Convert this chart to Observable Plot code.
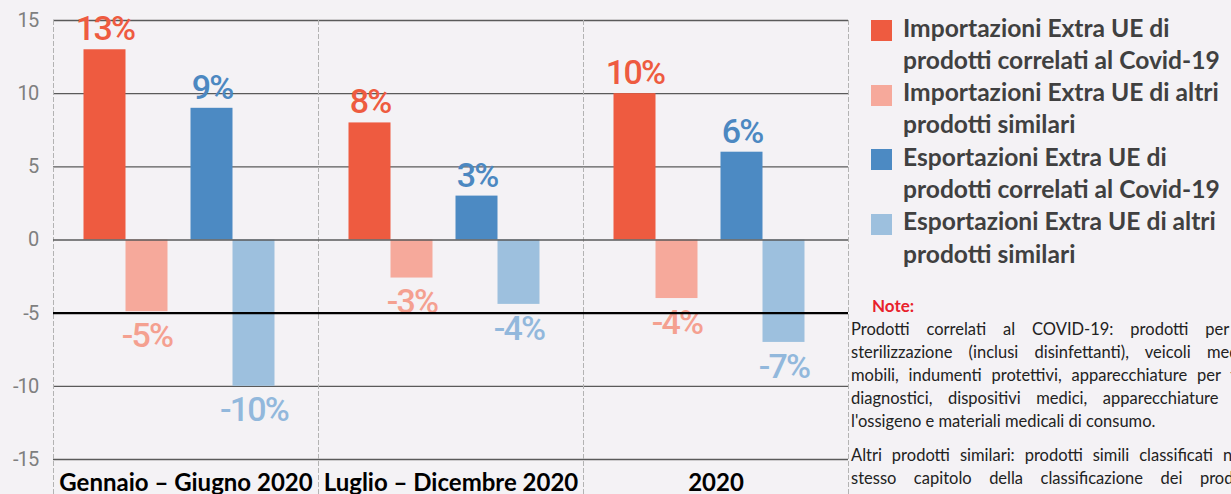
<!DOCTYPE html>
<html><head><meta charset="utf-8">
<script src="https://cdn.jsdelivr.net/npm/d3@7"></script>
<script src="https://cdn.jsdelivr.net/npm/@observablehq/plot@0.6"></script>
<style>
html,body{margin:0;padding:0;background:#f4f2f5;}
body{width:1231px;height:494px;overflow:hidden;position:relative;}
#chart{position:absolute;left:0;top:0;}
#legend{position:absolute;left:871px;top:11.5px;font-family:Lato,sans-serif;font-weight:700;font-size:24.6px;line-height:32.3px;color:#404040;white-space:nowrap;}
.item{display:flex;align-items:flex-start;}
.sw{width:21px;height:21px;margin-top:8.5px;margin-right:11px;flex:none;}
#notes{position:absolute;left:851px;top:295.3px;width:407px;font-family:Lato,sans-serif;font-size:16.5px;line-height:22.9px;color:#222;}
.ntitle{color:#e8212b;font-weight:700;margin-left:21px;font-size:17px;}
.ln{white-space:nowrap;}
.j{text-align:justify;text-align-last:justify;}
.p2{margin-top:11px;}
g[font-size="34"] text{letter-spacing:-1.8px;}
g[aria-label="y-axis tick label"] text{letter-spacing:-0.8px;}
</style>
</head><body>
<div id="chart"></div>
<div id="legend"></div>
<div id="notes"></div>
<script>
const periods = ["Gennaio – Giugno 2020", "Luglio – Dicembre 2020", "2020"];
const seriesNames = [
  "Importazioni Extra UE di prodotti correlati al Covid-19",
  "Importazioni Extra UE di altri prodotti similari",
  "Esportazioni Extra UE di prodotti correlati al Covid-19",
  "Esportazioni Extra UE di altri prodotti similari"
];
const legendLines = [
  ["Importazioni Extra UE di", "prodotti correlati al Covid-19"],
  ["Importazioni Extra UE di altri", "prodotti similari"],
  ["Esportazioni Extra UE di", "prodotti correlati al Covid-19"],
  ["Esportazioni Extra UE di altri", "prodotti similari"]
];
const seriesColors = ["#ee5b40", "#f6a99b", "#4c8ac3", "#9dc0de"];
const labelColors = ["#ee5b40", "#f4a090", "#4c88c1", "#92b8dc"];
const importsCovid = [13, 8, 10];
const importsOther = [-4.9, -2.6, -4.0];
const exportsCovid = [9, 3, 6];
const exportsOther = [-10, -4.4, -7];
const yTicks = [15, 10, 5, 0, -5, -10, -15];
const noteTitle = "Note:";
const notePara1 = [
  "Prodotti correlati al COVID-19: prodotti per la",
  "sterilizzazione (inclusi disinfettanti), veicoli medici,",
  "mobili, indumenti protettivi, apparecchiature per test",
  "diagnostici, dispositivi medici, apparecchiature per",
  "l'ossigeno e materiali medicali di consumo."
];
const notePara2 = [
  "Altri prodotti similari: prodotti simili classificati nello",
  "stesso capitolo della classificazione dei prodotti"
];

const rows = [];
periods.forEach((p, i) => {
  rows.push({period: p, series: seriesNames[0], value: importsCovid[i], group: "imp", k: 0});
  rows.push({period: p, series: seriesNames[1], value: importsOther[i], group: "imp", k: 1});
  rows.push({period: p, series: seriesNames[2], value: exportsCovid[i], group: "exp", k: 2});
  rows.push({period: p, series: seriesNames[3], value: exportsOther[i], group: "exp", k: 3});
});
const imp = rows.filter(d => d.group === "imp");
const exp = rows.filter(d => d.group === "exp");
const fmt = d => `${Math.round(d.value)}%`;
const labelFont = "Roboto, sans-serif";
const shift = 11.5;

function labels(data, dx) {
  const common = {fx: "period", x: "series", y: "value", text: fmt, fill: d => labelColors[d.k],
    dx, fontSize: 34, fontWeight: 500, fontFamily: labelFont};
  return [
    Plot.text(data.filter(d => d.value > 0), {...common, lineAnchor: "bottom", dy: -9.5}),
    Plot.text(data.filter(d => d.value < 0), {...common, lineAnchor: "top", dy: 11})
  ];
}

const chart = Plot.plot({
  width: 850, height: 494,
  marginLeft: 52, marginRight: 2, marginTop: 20, marginBottom: 35,
  style: {background: "#f4f2f5", fontFamily: "Lato, sans-serif", overflow: "visible"},
  fx: {domain: periods, padding: 0, label: null},
  x: {domain: seriesNames, paddingInner: 0, paddingOuter: 1.122, align: 0.435, axis: null},
  y: {domain: [-15, 15], label: null},
  color: {domain: seriesNames, range: seriesColors},
  marks: [
    Plot.ruleY(yTicks.filter(v => v !== -5 && v !== 0), {stroke: "#5a5a5a", strokeWidth: 1.3}),
    Plot.frame({anchor: "left", stroke: "#b3b3b3", strokeDasharray: "4,3", insetBottom: -35}),
    Plot.frame({anchor: "right", stroke: "#b3b3b3", strokeDasharray: "4,3", insetBottom: -35}),
    Plot.barY(imp, {fx: "period", x: "series", y: "value", fill: "series", dx: -shift}),
    Plot.barY(exp, {fx: "period", x: "series", y: "value", fill: "series", dx: shift}),
    ...labels(imp, -shift),
    ...labels(exp, shift),
    Plot.ruleY([0], {stroke: "#5a5a5a", strokeWidth: 1.3}),
    Plot.ruleY([-5], {stroke: "#000", strokeWidth: 2.3}),
    Plot.axisY({ticks: yTicks, tickFormat: d => String(d), tickSize: 0, tickPadding: 15,
      fontSize: 20, fontFamily: "Roboto, sans-serif", fill: "#7f7f7f", label: null}),
    Plot.axisFx({anchor: "bottom", tickSize: 0, tickPadding: 14, fontSize: 24, fontWeight: "bold",
      fontFamily: "Lato, sans-serif", fill: "#000", label: null})
  ]
});
document.getElementById("chart").appendChild(chart);

const legend = document.getElementById("legend");
legendLines.forEach((lines, i) => {
  const item = document.createElement("div");
  item.className = "item";
  const sw = document.createElement("div");
  sw.className = "sw";
  sw.style.background = seriesColors[i];
  const tx = document.createElement("div");
  tx.innerHTML = lines.join("<br>");
  item.appendChild(sw); item.appendChild(tx);
  legend.appendChild(item);
});

const notes = document.getElementById("notes");
const t = document.createElement("div");
t.className = "ntitle"; t.textContent = noteTitle; notes.appendChild(t);
function para(lines, cls) {
  const p = document.createElement("div");
  if (cls) p.className = cls;
  lines.forEach((l, i) => {
    const d = document.createElement("div");
    d.className = "ln" + (i < lines.length - 1 ? " j" : "");
    d.textContent = l;
    p.appendChild(d);
  });
  notes.appendChild(p);
}
para(notePara1);
para(notePara2, "p2");
notes.lastChild.lastChild.classList.add("j");
</script>
</body></html>
